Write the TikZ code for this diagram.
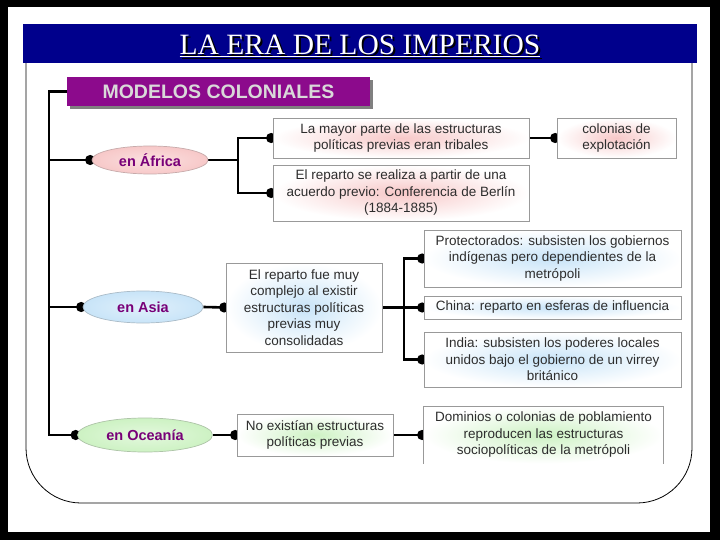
\documentclass[tikz,border=0pt]{standalone}
\usepackage{fontspec}
\setmainfont{Liberation Serif}
\setsansfont{Liberation Sans}
\usetikzlibrary{positioning,shapes.geometric,arrows.meta,backgrounds,shadows}
\definecolor{azulbarra}{RGB}{0,0,140}
\definecolor{morado}{RGB}{140,10,140}
\definecolor{lila}{RGB}{120,0,120}
\definecolor{rosa}{RGB}{247,200,200}
\definecolor{celeste}{RGB}{200,228,248}
\definecolor{verde}{RGB}{205,242,195}
\definecolor{textoc}{RGB}{45,45,45}
\newcommand{\consombra}[1]{\rlap{\hspace{2pt}\raisebox{-2pt}{\color{black}#1}}#1}

\begin{document}
\begin{tikzpicture}[x=1pt,y=-1pt,
            barra/.style={fill=azulbarra,minimum width=674,minimum height=39,inner sep=0pt},
            titulo/.style={anchor=base,inner sep=0pt,text=white,font=\fontsize{29.5}{30}\selectfont},
            cabecera/.style={fill=morado,minimum width=303,minimum height=29,inner sep=0pt,text=white!85!black,font=\sffamily\bfseries\fontsize{19.5}{21}\selectfont,drop shadow={shadow xshift=3pt,shadow yshift=-3pt,fill=gray,opacity=1}},
            ovalo/.style={ellipse,inner sep=0pt,line width=0.7pt,draw=#1!60!gray,outer color=#1,inner color=#1!55,text=lila,font=\sffamily\bfseries\fontsize{14.5}{16}\selectfont},
            caja/.style={rectangle,draw=black!40,line width=0.7pt,outer color=white,inner color=#1,align=center,inner sep=2pt,text=textoc,font=\sffamily\fontsize{13.5}{16.5}\selectfont},
            borde/.style={black!40,line width=0.7pt},
            enlace/.style={line width=2.6pt},
            punta/.style={-{Circle[length=10pt,width=10pt]},shorten >=-3.5pt}]
            \begin{scope}[on background layer]
            \fill[black] (0,0) rectangle (720,540);
            \fill[white] (8,7) rectangle (710,532);
            \draw[line width=0.8pt,rounded corners=55] (26,63) -- (26,503) -- (692,503) -- (692,63);
            \end{scope}

            \node[barra] (barra) at (360,43.5) {};
            \node[titulo] (titulo) at (360,55) {\consombra{\underline{LA ERA DE LOS IMPERIOS}}};
            \node[cabecera] (modelos) at (218.5,91.5) {MODELOS COLONIALES};

            \node[ovalo=rosa,minimum width=116,minimum height=28] (afr) at (150,160) {en África};
            \node[caja=rosa,minimum width=256,minimum height=40] (mayor) at (401,138) {La mayor parte de las estructuras\\políticas previas eran tribales};
            \node[caja=rosa,minimum width=256,minimum height=56] (reparto) at (401,193) {El reparto se realiza a partir de una\\acuerdo previo: Conferencia de Berlín\\(1884-1885)};
            \node[caja=rosa,minimum width=119,minimum height=40] (colonias) at (616.5,138) {colonias de\\explotación};

            \node[ovalo=celeste,minimum width=120,minimum height=32] (asia) at (143,307) {en Asia};
            \node[caja=celeste,minimum width=156,minimum height=89] (complejo) at (304,307.5) {El reparto fue muy\\complejo al existir\\estructuras políticas\\previas muy\\consolidadas};
            \node[caja=celeste,minimum width=257,minimum height=57] (protect) at (552.5,258.5) {Protectorados: subsisten los gobiernos\\indígenas pero dependientes de la\\metrópoli};
            \node[caja=celeste,minimum width=257,minimum height=23] (china) at (552.5,307.5) {China: reparto en esferas de influencia};
            \node[caja=celeste,minimum width=257,minimum height=55] (india) at (552.5,359.5) {India: subsisten los poderes locales\\unidos bajo el gobierno de un virrey\\británico};

            \node[ovalo=verde,minimum width=135,minimum height=34] (oce) at (145,435) {en Oceanía};
            \node[caja=verde,minimum width=156,minimum height=42] (noexist) at (315,435) {No existían estructuras\\políticas previas};
            \node[caja=verde,draw=none,minimum width=239,minimum height=57] (dominios) at (543.5,435) {Dominios o colonias de poblamiento\\reproducen las estructuras\\sociopolíticas de la metrópoli};
            \draw[borde] (dominios.south west) -- (dominios.north west) -- (dominios.north east) -- (dominios.south east);

            \coordinate (tronco) at (49,91.5);
            \coordinate (forka) at (238,160);
            \coordinate (forkb) at (404,307.5);
            \begin{scope}[on background layer]
            \draw[enlace,punta] (modelos.west) -- (tronco) |- (oce.west);
            \draw[enlace,punta] (tronco |- afr.west) -- (afr.west);
            \draw[enlace,punta] (tronco |- asia.west) -- (asia.west);
            \draw[enlace,punta] (afr.east) -- (forka) |- (mayor.west);
            \draw[enlace,punta] (forka) |- (reparto.west);
            \draw[enlace,punta] (mayor.east) -- (colonias.west);
            \draw[enlace,punta] (asia.east) -- (complejo.west);
            \draw[enlace,punta] (complejo.east) -- (forkb) |- (protect.west);
            \draw[enlace,punta] (forkb) -- (china.west);
            \draw[enlace,punta] (forkb) |- (india.west);
            \draw[enlace,punta] (oce.east) -- (noexist.west);
            \draw[enlace,punta] (noexist.east) -- (dominios.west);
            \end{scope}
          \end{tikzpicture}
\end{document}
